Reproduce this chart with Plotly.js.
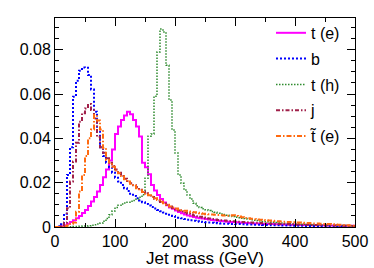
<!DOCTYPE html>
<html>
<head>
<meta charset="utf-8">
<script src="https://cdn.plot.ly/plotly-3.0.1.min.js"></script>
<style>html,body{margin:0;padding:0;background:#fff;}#chart{width:374px;height:268px;}</style>
</head>
<body>
<div id="chart"></div>
<script>
// Bin width (GeV) and histogram contents (normalised), 100 bins from 0 to 500 GeV
const binWidth = 5;
const xMax = 500;

const seriesNames = ["t (e)", "b", "t (h)", "j", "t\u0303 (e)"];

const topE = [
  0, 0, 0.0003, 0.0008, 0.0015, 0.0022, 0.003, 0.004, 0.005, 0.0063,
  0.0077, 0.0095, 0.0115, 0.0135, 0.016, 0.019, 0.0225, 0.026, 0.030, 0.035,
  0.042, 0.0453, 0.0483, 0.0503, 0.052, 0.0509, 0.0483, 0.0453, 0.0408, 0.029,
  0.027, 0.0238, 0.019, 0.0165, 0.0144, 0.0126, 0.011, 0.0098, 0.0088, 0.0082,
  0.0075, 0.0068, 0.0062, 0.0056, 0.0052, 0.0048, 0.0045, 0.0042, 0.004, 0.0038,
  0.0036, 0.0034, 0.0032, 0.003, 0.0028, 0.0027, 0.0026, 0.0024, 0.0023, 0.0022,
  0.0021, 0.002, 0.0019, 0.0018, 0.0018, 0.0017, 0.0016, 0.0016, 0.0015, 0.0014,
  0.0014, 0.0013, 0.0013, 0.0012, 0.0012, 0.0011, 0.0011, 0.001, 0.001, 0.001,
  0.0009, 0.0009, 0.0009, 0.0009, 0.0009, 0.0008, 0.0008, 0.0008, 0.0008, 0.0008,
  0.0007, 0.0007, 0.0007, 0.0007, 0.0007, 0.0006, 0.0006, 0.0006, 0.0006, 0.0006
];

const bJet = [
  0, 0.0003, 0.0012, 0.006, 0.0235, 0.036, 0.0588, 0.066, 0.0705, 0.072,
  0.0718, 0.0686, 0.062, 0.052, 0.043, 0.036, 0.032, 0.029, 0.027, 0.0245,
  0.0222, 0.0205, 0.019, 0.0175, 0.0162, 0.015, 0.014, 0.013, 0.012, 0.0112,
  0.0104, 0.0097, 0.009, 0.0083, 0.0077, 0.0071, 0.0065, 0.006, 0.0055, 0.005,
  0.0046, 0.0042, 0.0039, 0.0036, 0.0033, 0.003, 0.0028, 0.0026, 0.0024, 0.0022,
  0.0021, 0.002, 0.0019, 0.0018, 0.0017, 0.0016, 0.0015, 0.0015, 0.0014, 0.0014,
  0.0013, 0.0013, 0.0012, 0.0012, 0.0011, 0.0011, 0.001, 0.001, 0.001, 0.0009,
  0.0009, 0.0009, 0.0008, 0.0008, 0.0008, 0.0007, 0.0007, 0.0007, 0.0007, 0.0006,
  0.0006, 0.0006, 0.0006, 0.0005, 0.0005, 0.0005, 0.0005, 0.0005, 0.0004, 0.0004,
  0.0004, 0.0004, 0.0004, 0.0004, 0.0003, 0.0003, 0.0003, 0.0003, 0.0003, 0.0003
];

const topH = [
  0, 0, 0, 0, 0.0001, 0.0001, 0.0002, 0.0002, 0.0003, 0.0004,
  0.0005, 0.0006, 0.0008, 0.001, 0.0013, 0.0018, 0.0026, 0.0038, 0.0055, 0.0072,
  0.0088, 0.0098, 0.0104, 0.0108, 0.0112, 0.0116, 0.012, 0.0126, 0.0134, 0.0145,
  0.022, 0.041, 0.042, 0.059, 0.079, 0.0893, 0.088, 0.073, 0.0573, 0.0438,
  0.0334, 0.0235, 0.0197, 0.0167, 0.0144, 0.0126, 0.0107, 0.0096, 0.0088, 0.0082,
  0.0078, 0.0074, 0.007, 0.0066, 0.0062, 0.0059, 0.0056, 0.0053, 0.005, 0.0047,
  0.0044, 0.0042, 0.004, 0.0038, 0.0036, 0.0033, 0.0031, 0.0029, 0.0027, 0.0025,
  0.0024, 0.0022, 0.0021, 0.002, 0.0019, 0.0018, 0.0017, 0.0016, 0.0015, 0.0014,
  0.0013, 0.0013, 0.0012, 0.0012, 0.0011, 0.0011, 0.001, 0.001, 0.0009, 0.0009,
  0.0009, 0.0008, 0.0008, 0.0008, 0.0007, 0.0007, 0.0007, 0.0006, 0.0006, 0.0006
];

const lightJet = [
  0, 0, 0.0003, 0.002, 0.0085, 0.0205, 0.0295, 0.038, 0.0475, 0.0513,
  0.0535, 0.0555, 0.0528, 0.049, 0.0407, 0.036, 0.0335, 0.031, 0.029, 0.0275,
  0.026, 0.0245, 0.023, 0.0218, 0.0207, 0.0197, 0.0188, 0.018, 0.0168, 0.016,
  0.0152, 0.0145, 0.0135, 0.0127, 0.012, 0.0113, 0.0106, 0.01, 0.0092, 0.0086,
  0.008, 0.0075, 0.007, 0.0065, 0.006, 0.0056, 0.0052, 0.0049, 0.0046, 0.0043,
  0.004, 0.0038, 0.0036, 0.0034, 0.0032, 0.003, 0.0029, 0.0028, 0.0027, 0.0026,
  0.0025, 0.0024, 0.0023, 0.0022, 0.0021, 0.002, 0.0019, 0.0019, 0.0018, 0.0017,
  0.0017, 0.0016, 0.0015, 0.0015, 0.0014, 0.0014, 0.0013, 0.0013, 0.0012, 0.0012,
  0.0011, 0.0011, 0.001, 0.001, 0.001, 0.0009, 0.0009, 0.0009, 0.0008, 0.0008,
  0.0008, 0.0007, 0.0007, 0.0007, 0.0006, 0.0006, 0.0006, 0.0006, 0.0005, 0.0005
];

const stopE = [
  0, 0, 0, 0.0003, 0.0008, 0.0015, 0.002, 0.0069, 0.016, 0.0235,
  0.032, 0.040, 0.044, 0.0505, 0.048, 0.044, 0.0357, 0.0302, 0.029, 0.0272,
  0.0255, 0.0242, 0.023, 0.0215, 0.0205, 0.0195, 0.0186, 0.0175, 0.0166, 0.0158,
  0.015, 0.0143, 0.0137, 0.013, 0.0122, 0.0114, 0.0107, 0.01, 0.0093, 0.0088,
  0.0083, 0.0079, 0.0076, 0.0073, 0.007, 0.0068, 0.0066, 0.0064, 0.0062, 0.006,
  0.0058, 0.0057, 0.0056, 0.0055, 0.0054, 0.0053, 0.0052, 0.0051, 0.0052, 0.0053,
  0.005, 0.0047, 0.0044, 0.0041, 0.0039, 0.0037, 0.0035, 0.0034, 0.0033, 0.0031,
  0.003, 0.0029, 0.0028, 0.0027, 0.0026, 0.0025, 0.0024, 0.0023, 0.0022, 0.0021,
  0.002, 0.002, 0.0019, 0.0018, 0.0018, 0.0017, 0.0016, 0.0016, 0.0015, 0.0014,
  0.0013, 0.0013, 0.0012, 0.0011, 0.001, 0.001, 0.0009, 0.0008, 0.0007, 0.0006
];

const xTickVals = [0, 100, 200, 300, 400, 500];
const yTickVals = [0, 0.02, 0.04, 0.06, 0.08];
const yTickText = ["0", "0.02", "0.04", "0.06", "0.08"];

function stepTrace(vals, name, line) {
  const xs = vals.map((_, i) => i * binWidth).concat([vals.length * binWidth]);
  const ys = vals.concat([vals[vals.length - 1]]);
  return {
    type: "scatter", mode: "lines", x: xs, y: ys, name: name,
    line: Object.assign({shape: "hv"}, line),
    legendgroup: name, hoverinfo: "skip"
  };
}

const traces = [
  stepTrace(topE, seriesNames[0], {color: "#ff00ff", width: 2}),
  stepTrace(bJet, seriesNames[1], {color: "#0000ff", width: 2, dash: "2px,2px"}),
  stepTrace(topH, seriesNames[2], {color: "#2e8b2e", width: 1.5, dash: "1.5px,1.5px"}),
  stepTrace(lightJet, seriesNames[3], {color: "#a0204a", width: 2, dash: "4px,2px,1.5px,2px"}),
  stepTrace(stopE, seriesNames[4], {color: "#ff6a10", width: 2, dash: "5px,2px,1.5px,2px"})
];

const fontFam = "Liberation Sans, Arial, sans-serif";

const layout = {
  width: 374, height: 268,
  margin: {l: 55, r: 19, t: 18, b: 41, pad: 0},
  paper_bgcolor: "#fff", plot_bgcolor: "#fff",
  font: {family: fontFam, color: "#000", size: 16},
  showlegend: true,
  legend: {
    x: 0.72, y: 1.01, xanchor: "left", yanchor: "top",
    bgcolor: "rgba(0,0,0,0)", borderwidth: 0,
    font: {family: fontFam, size: 16, color: "#000"},
    itemwidth: 30, traceorder: "grouped", tracegroupgap: 2
  },
  xaxis: {
    range: [0, xMax], tickvals: xTickVals, ticks: "inside", ticklen: 8, tickwidth: 1,
    tickcolor: "#000", showline: true, linecolor: "#000", linewidth: 1, mirror: "ticks",
    showgrid: false, zeroline: false, tickfont: {size: 16, family: fontFam},
    minor: {dtick: 50, ticks: "inside", ticklen: 4, tickcolor: "#000", showgrid: false},
    title: {text: "Jet mass (GeV)", font: {size: 17, family: fontFam}, standoff: 1}
  },
  yaxis: {
    range: [0, 0.0943], tickvals: yTickVals, ticktext: yTickText, ticks: "inside", ticklen: 8,
    tickwidth: 1, tickcolor: "#000", showline: true, linecolor: "#000", linewidth: 1,
    mirror: "ticks", showgrid: false, zeroline: false, tickfont: {size: 16, family: fontFam},
    minor: {dtick: 0.005, ticks: "inside", ticklen: 4, tickcolor: "#000", showgrid: false}
  }
};

Plotly.newPlot("chart", traces, layout, {staticPlot: true, displayModeBar: false});
</script>
</body>
</html>
